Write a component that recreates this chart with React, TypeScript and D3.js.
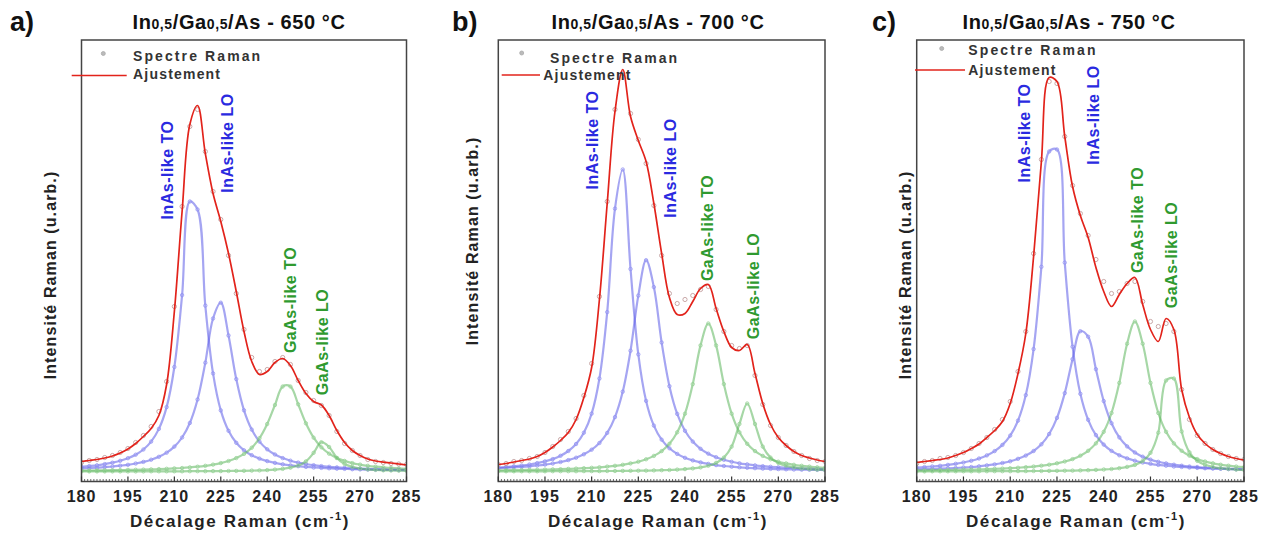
import React from "react";
import * as d3 from "d3";

// ---------- data ----------
const ramanShift = [180, 182.5, 185, 187.5, 190, 192.5, 195, 197.5, 200, 202.5, 205, 207.5, 210, 212.5, 215, 217.5, 220, 222.5, 225, 227.5, 230, 232.5, 235, 237.5, 240, 242.5, 245, 247.5, 250, 252.5, 255, 257.5, 260, 262.5, 265, 267.5, 270, 272.5, 275, 277.5, 280, 282.5, 285];
const xTickLabels = [180, 195, 210, 225, 240, 255, 270, 285];
const panelLetters = ["a)", "b)", "c)"];
const temperatures = ["650 °C", "700 °C", "750 °C"];
const modeNames = ["InAs-like TO", "InAs-like LO", "GaAs-like TO", "GaAs-like LO"];

// panel a) 650 °C
const spectrumA = [19, 21, 22, 24, 26, 29, 33, 39, 46, 55, 70, 100, 175, 275, 355, 372, 330, 290, 262, 226, 188, 152, 124, 110, 112, 120, 124, 117, 101, 89, 81, 76, 66, 50, 38, 31, 26, 22, 20, 19, 18, 17.5, 17];
const fitA = [20, 21, 22, 23.5, 25.5, 28.5, 32.5, 38, 45, 53, 66, 97, 170, 270, 357, 376, 328, 288, 260, 228, 190, 150, 120, 107, 110, 119, 123, 116, 101, 88, 80, 76.5, 66, 51, 39, 31, 26, 22.5, 20.5, 19.3, 18.5, 17.5, 16.5];
const inAsToA = [14.7, 15.4, 16.2, 17.4, 18.8, 20.7, 23.3, 26.8, 32, 39.9, 52.6, 74.4, 114.5, 186.4, 280, 272, 175.9, 108.1, 71.1, 50.7, 38.7, 31.2, 26.3, 22.9, 20.4, 18.6, 17.2, 16.1, 15.3, 14.6, 14, 13.6, 13.2, 12.8, 12.6, 12.3, 12.1, 11.9, 11.8, 11.6, 11.5, 11.4, 11.3];
const inAsLoA = [13, 13.4, 13.8, 14.4, 15, 15.8, 16.7, 18, 19.6, 21.8, 24.7, 28.8, 34.9, 44, 58.5, 82, 118.8, 163, 178.8, 146, 102.4, 71.2, 51.9, 39.9, 32.2, 27, 23.4, 20.8, 18.9, 17.5, 16.3, 15.4, 14.7, 14.1, 13.6, 13.2, 12.9, 12.6, 12.4, 12.2, 12, 11.8, 11.7];
const gaAsToA = [11, 11, 11.1, 11.2, 11.3, 11.4, 11.6, 11.7, 11.9, 12.1, 12.4, 12.7, 13.1, 13.5, 14.1, 14.8, 15.7, 16.9, 18.4, 20.5, 23.4, 27.6, 33.8, 43.3, 57.5, 76.5, 95, 95, 77.2, 58.2, 43.8, 34.2, 27.8, 23.5, 20.6, 18.4, 16.9, 15.7, 14.8, 14.1, 13.6, 13.1, 12.7];
const gaAsLoA = [10.1, 10.1, 10.1, 10.1, 10.1, 10.1, 10.1, 10.1, 10.1, 10.2, 10.2, 10.2, 10.2, 10.2, 10.3, 10.3, 10.3, 10.4, 10.4, 10.5, 10.6, 10.7, 10.9, 11.1, 11.4, 11.9, 12.6, 13.8, 15.9, 20.1, 28.7, 39.3, 34.5, 23.6, 17.5, 14.6, 13, 12.1, 11.6, 11.2, 11, 10.8, 10.7];
const labelShiftA = [207.9, 227.3, 247.4, 258.0];
const labelLevelA = [311.5, 338.5, 181.5, 139.5];

// panel b) 700 °C
const spectrumB = [17, 18, 20, 21, 23, 25, 29, 35, 42, 50, 63, 86, 118, 185, 280, 372, 408, 368, 342, 318, 276, 226, 188, 178, 182, 186, 192, 195, 172, 150, 136, 133, 136, 106, 77, 56, 44, 36, 30, 26, 23, 21, 20];
const fitB = [17, 18, 19.5, 21, 22.5, 25, 29, 34.5, 41, 49, 62, 84, 114, 182, 278, 370, 412, 365, 341, 320, 278, 228, 184, 167, 168, 180, 193, 197, 173, 150, 134, 131, 137, 108, 78, 57, 44, 36, 30, 26, 23.5, 21.5, 20];
const inAsToB = [13.9, 14.5, 15.2, 16, 17, 18.4, 20.1, 22.4, 25.7, 30.5, 37.5, 48.8, 67.9, 103, 169.4, 272.9, 312, 212.5, 127.1, 80.6, 55.9, 41.8, 33.2, 27.6, 23.7, 21.1, 19.1, 17.6, 16.4, 15.5, 14.8, 14.2, 13.7, 13.3, 12.9, 12.6, 12.4, 12.2, 12, 11.8, 11.7, 11.6, 11.4];
const inAsLoB = [13.3, 13.7, 14.1, 14.6, 15.2, 16, 16.9, 18, 19.5, 21.4, 23.8, 27.2, 31.8, 38.5, 48.6, 64.4, 89.9, 130.8, 185.9, 221.3, 194.4, 139, 95.3, 67.6, 50.7, 39.9, 32.7, 27.8, 24.3, 21.7, 19.7, 18.2, 17.1, 16.1, 15.3, 14.7, 14.2, 13.7, 13.4, 13, 12.8, 12.5, 12.3];
const gaAsToB = [11.2, 11.3, 11.4, 11.5, 11.6, 11.7, 11.9, 12.1, 12.3, 12.6, 12.9, 13.3, 13.7, 14.2, 14.9, 15.7, 16.7, 18.1, 19.8, 22.2, 25.6, 30.4, 37.7, 49.2, 67.8, 97.4, 136.1, 158, 136.1, 97.4, 67.8, 49.2, 37.7, 30.4, 25.6, 22.2, 19.8, 18.1, 16.7, 15.7, 14.9, 14.2, 13.7];
const gaAsLoB = [10.2, 10.2, 10.2, 10.2, 10.2, 10.2, 10.2, 10.3, 10.3, 10.3, 10.3, 10.4, 10.4, 10.4, 10.5, 10.5, 10.6, 10.7, 10.8, 10.9, 11.1, 11.3, 11.5, 11.9, 12.4, 13.1, 14.1, 15.8, 18.6, 23.9, 34.9, 57.5, 78, 57.5, 34.9, 23.9, 18.6, 15.8, 14.1, 13.1, 12.4, 11.9, 11.5];
const labelShiftB = [210.4, 235.2, 247.1, 261.9];
const labelLevelB = [341.5, 313.5, 253.5, 195.5];

// panel c) 750 °C
const spectrumC = [18, 20, 21, 23, 24, 26, 29, 33, 38, 44, 52, 62, 80, 110, 150, 228, 322, 400, 398, 345, 296, 268, 246, 222, 200, 188, 190, 198, 200, 180, 160, 155, 158, 150, 92, 62, 46, 38, 32, 28, 25, 23, 22];
const fitC = [19, 20, 21, 22, 23.5, 26, 29, 33, 37.5, 44, 51, 60, 78, 108, 148, 225, 320, 404, 400, 345, 295, 266, 244, 214, 190, 175, 187, 198, 204, 177, 152, 140, 163, 152, 92, 64, 47, 38, 32, 28, 25, 23, 21.5];
const inAsToC = [14, 14.4, 15, 15.7, 16.6, 17.7, 19, 20.7, 23, 26.1, 30.4, 36.6, 45.9, 60.9, 86.4, 132.4, 214.7, 330, 332, 218.9, 134.8, 87.7, 61.7, 46.4, 36.9, 30.6, 26.2, 23.1, 20.8, 19, 17.7, 16.6, 15.8, 15, 14.5, 14, 13.6, 13.2, 12.9, 12.7, 12.4, 12.2, 12];
const inAsLoC = [12.1, 12.3, 12.5, 12.8, 13.1, 13.5, 14, 14.5, 15.2, 16.1, 17.1, 18.5, 20.2, 22.7, 25.9, 30.5, 37.2, 47.5, 63.6, 88.4, 122.3, 150.3, 144.8, 112.3, 80.4, 58.3, 44.1, 35.1, 29, 24.8, 21.9, 19.7, 18.1, 16.8, 15.8, 15, 14.4, 13.8, 13.4, 13, 12.7, 12.5, 12.2];
const gaAsToC = [11.1, 11.2, 11.3, 11.4, 11.5, 11.6, 11.8, 11.9, 12.1, 12.4, 12.6, 12.9, 13.3, 13.75, 14.3, 14.95, 15.8, 16.8, 18.2, 20, 22.4, 25.8, 30.7, 38.1, 49.7, 68.5, 98.6, 137.8, 160, 137.8, 98.6, 68.5, 49.7, 38.1, 30.7, 25.8, 22.4, 20, 18.2, 16.8, 15.8, 14.95, 14.3];
const gaAsLoC = [10.1, 10.1, 10.2, 10.2, 10.2, 10.2, 10.2, 10.2, 10.2, 10.3, 10.3, 10.3, 10.3, 10.4, 10.4, 10.5, 10.5, 10.6, 10.7, 10.8, 10.9, 11.1, 11.3, 11.6, 12, 12.5, 13.3, 14.6, 16.6, 20.5, 28.7, 48.8, 101, 103, 50, 29.2, 20.7, 16.8, 14.6, 13.3, 12.5, 11.9, 11.6];
const labelShiftC = [214.7, 236.6, 250.7, 261.9];
const labelLevelC = [348.5, 366.5, 261.5, 226.5];

const panelData = [
  { spectrum: spectrumA, fit: fitA, comps: [inAsToA, inAsLoA, gaAsToA, gaAsLoA], lx: labelShiftA, ly: labelLevelA },
  { spectrum: spectrumB, fit: fitB, comps: [inAsToB, inAsLoB, gaAsToB, gaAsLoB], lx: labelShiftB, ly: labelLevelB },
  { spectrum: spectrumC, fit: fitC, comps: [inAsToC, inAsLoC, gaAsToC, gaAsLoC], lx: labelShiftC, ly: labelLevelC },
];

// ---------- layout ----------
const TOP = 40;
const BOTTOM = 481.5;
const Y_DOMAIN_MAX = 441.5;
const layouts = [
  { left: 81.5, right: 406.5, titleX: 239, letterX: 10, yTitleX: 55.5, yTitleY: 275, xTitleX: 240,
    markX: 103.3, markY: 53.5, specX: 133, specY: 61, lineX0: 71.7, lineX1: 126.7, lineY: 75.5, ajX: 133, ajY: 79 },
  { left: 498.3, right: 825, titleX: 658, letterX: 452, yTitleX: 478, yTitleY: 241, xTitleX: 658,
    markX: 521.7, markY: 53, specX: 550, specY: 63, lineX0: 501.7, lineX1: 540, lineY: 75, ajX: 543.3, ajY: 80 },
  { left: 916.7, right: 1244, titleX: 1069, letterX: 872, yTitleX: 911, yTitleY: 275, xTitleX: 1076,
    markX: 941.7, markY: 48.5, specX: 968.3, specY: 55, lineX0: 915, lineX1: 965, lineY: 70, ajX: 968.3, ajY: 75 },
];

const FONT = "'Liberation Sans', Arial, Helvetica, sans-serif";
const BLUE_LINE = "#5b5be8";
const BLUE_MARK = "#8f8ff2";
const GREEN_LINE = "#5cb65c";
const GREEN_MARK = "#93d193";
const LABEL_COLORS = ["#2a2ae0", "#2a2ae0", "#2f9a2f", "#2f9a2f"];

function Panel({ idx }: { idx: number }) {
  const lay = layouts[idx];
  const d = panelData[idx];
  const x = d3.scaleLinear().domain([180, 285]).range([lay.left, lay.right]);
  const y = d3.scaleLinear().domain([0, Y_DOMAIN_MAX]).range([BOTTOM, TOP]);
  const line = d3
    .line<number>()
    .x((_, i) => x(ramanShift[i]))
    .y((v) => y(v))
    .curve(d3.curveCatmullRom.alpha(0.5));
  const clipId = `clip-${idx}`;
  const minor = d3.range(181, 285, 1).filter((v) => (v - 180) % 15 !== 0);

  return (
    <g>
      <defs>
        <clipPath id={clipId}>
          <rect x={lay.left} y={TOP} width={lay.right - lay.left} height={BOTTOM - TOP} />
        </clipPath>
      </defs>
      {/* panel letter */}
      <text x={lay.letterX} y={31} fontFamily={FONT} fontWeight="bold" fontSize={27} fill="#111">
        {panelLetters[idx]}
      </text>
      {/* title */}
      <text x={lay.titleX} y={29} textAnchor="middle" fontFamily={FONT} fontWeight="bold" fontSize={20} fill="#111" letterSpacing={0.6}>
        In<tspan fontSize={14}>0,5</tspan>/Ga<tspan fontSize={14}>0,5</tspan>/As - {temperatures[idx]}
      </text>

      <g clipPath={`url(#${clipId})`}>
        {/* components */}
        {d.comps.map((c, k) => {
          const isBlue = k < 2;
          return (
            <g key={k}>
              <path d={line(c) || ""} fill="none" stroke={isBlue ? BLUE_LINE : GREEN_LINE} strokeWidth={2.2} strokeOpacity={0.55} />
              {c.map((v, i) => (
                <circle key={i} cx={x(ramanShift[i])} cy={y(v)} r={1.7} fill="none" stroke={isBlue ? BLUE_MARK : GREEN_MARK} strokeWidth={0.9} opacity={0.85} />
              ))}
            </g>
          );
        })}
        {/* experimental spectrum */}
        {d.spectrum.map((v, i) => (
          <circle key={i} cx={x(ramanShift[i])} cy={y(v)} r={2.1} fill="none" stroke="#c09a9a" strokeWidth={1} opacity={0.85} />
        ))}
        {/* fit */}
        <path d={line(d.fit) || ""} fill="none" stroke="#e2231b" strokeWidth={1.7} />
      </g>

      {/* frame */}
      <rect x={lay.left} y={TOP} width={lay.right - lay.left} height={BOTTOM - TOP} fill="none" stroke="#444" strokeWidth={1.5} />
      {/* ticks */}
      {minor.map((v) => (
        <line key={v} x1={x(v)} x2={x(v)} y1={BOTTOM} y2={BOTTOM - 2.5} stroke="#444" strokeWidth={0.8} />
      ))}
      {xTickLabels.map((v) => (
        <g key={v}>
          <line x1={x(v)} x2={x(v)} y1={BOTTOM} y2={BOTTOM - 5} stroke="#333" strokeWidth={1.2} />
          <text x={x(v)} y={502} textAnchor="middle" fontFamily={FONT} fontWeight="bold" fontSize={16} fill="#222" letterSpacing={1}>
            {v}
          </text>
        </g>
      ))}
      {/* x title */}
      <text x={lay.xTitleX} y={527} textAnchor="middle" fontFamily={FONT} fontWeight="bold" fontSize={17} fill="#222" letterSpacing={1.6}>
        Décalage Raman (cm<tspan fontSize={11} dy={-7}>-1</tspan><tspan dy={7}>)</tspan>
      </text>
      {/* y title */}
      <text transform={`translate(${lay.yTitleX},${lay.yTitleY}) rotate(-90)`} textAnchor="middle" fontFamily={FONT} fontWeight="bold" fontSize={16} fill="#222" letterSpacing={1.1}>
        Intensité Raman (u.arb.)
      </text>

      {/* legend */}
      <circle cx={lay.markX} cy={lay.markY} r={2} fill="#bbb" stroke="#aaa" strokeWidth={0.8} />
      <text x={lay.specX} y={lay.specY} fontFamily={FONT} fontWeight="bold" fontSize={14} fill="#333" letterSpacing={2.1}>
        Spectre Raman
      </text>
      <line x1={lay.lineX0} x2={lay.lineX1} y1={lay.lineY} y2={lay.lineY} stroke="#e2231b" strokeWidth={1.5} />
      <text x={lay.ajX} y={lay.ajY} fontFamily={FONT} fontWeight="bold" fontSize={14} fill="#333" letterSpacing={1.2}>
        Ajustement
      </text>

      {/* peak labels */}
      {modeNames.map((name, k) => (
        <text
          key={name}
          transform={`translate(${x(d.lx[k])},${y(d.ly[k])}) rotate(-90)`}
          textAnchor="middle"
          dominantBaseline="central"
          fontFamily={FONT}
          fontWeight="bold"
          fontSize={16}
          letterSpacing={0.5}
          fill={LABEL_COLORS[k]}
        >
          {name}
        </text>
      ))}
    </g>
  );
}

export default function App() {
  return (
    <svg
      width={1273}
      height={535}
      viewBox="0 0 1273 535"
      style={{ position: "absolute", left: 0, top: 0, display: "block", background: "#fff" }}
    >
      <rect x={0} y={0} width={1273} height={535} fill="#fff" />
      {[0, 1, 2].map((i) => (
        <Panel key={i} idx={i} />
      ))}
    </svg>
  );
}
